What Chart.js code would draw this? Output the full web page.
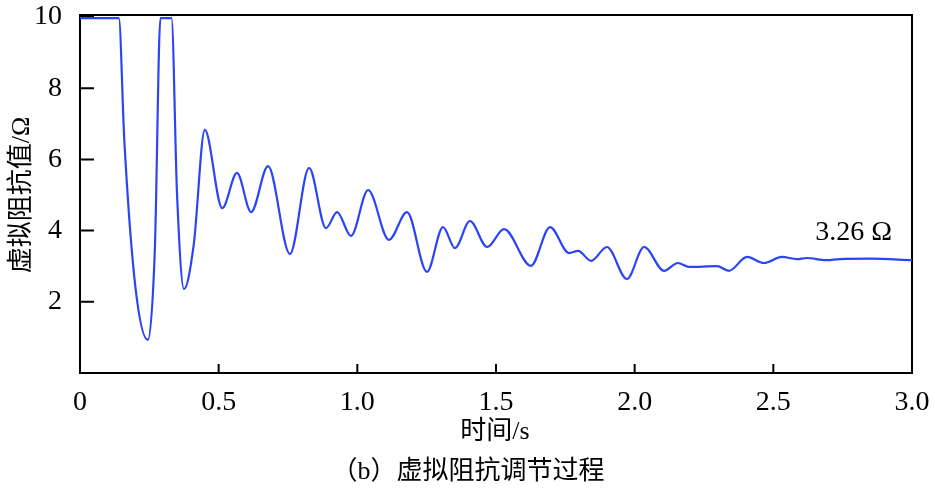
<!DOCTYPE html>
<html><head><meta charset="utf-8">
<script src="https://cdn.jsdelivr.net/npm/chart.js@4/dist/chart.umd.min.js"></script>
<style>html,body{margin:0;background:#fff}#wrap{width:935px;height:495px}</style>
</head><body><div id="wrap"><canvas id="c"></canvas></div>
<script>
// curve: time (s) and virtual impedance (Ω)
const times = [0, 0.10, 0.14, 0.16, 0.20, 0.245, 0.27, 0.29, 0.33, 0.35, 0.375, 0.41, 0.45, 0.513, 0.566, 0.617, 0.678, 0.757, 0.826, 0.887, 0.927, 0.977, 1.039, 1.114, 1.179, 1.251, 1.309, 1.352, 1.406, 1.468, 1.529, 1.626, 1.695, 1.763, 1.796, 1.843, 1.90, 1.972, 2.034, 2.106, 2.156, 2.196, 2.297, 2.34, 2.405, 2.466, 2.531, 2.585, 2.62, 2.69, 2.74, 2.85, 3.0];
const values = [9.97, 9.97, 9.97, 6.5, 2.4, 0.93, 3.5, 9.97, 9.97, 5.0, 2.36, 3.6, 6.83, 4.63, 5.62, 4.52, 5.81, 3.34, 5.76, 4.07, 4.52, 3.85, 5.14, 3.74, 4.52, 2.84, 4.10, 3.51, 4.27, 3.54, 4.04, 3.01, 4.10, 3.37, 3.43, 3.15, 3.54, 2.64, 3.54, 2.87, 3.09, 2.98, 3.0, 2.87, 3.26, 3.09, 3.26, 3.20, 3.23, 3.17, 3.2, 3.21, 3.17];
const xTicks = [0, 0.5, 1.0, 1.5, 2.0, 2.5, 3.0];
const yTicks = [2, 4, 6, 8, 10];
const note = '3.26 Ω';

const serif = '"Liberation Serif", "Noto Sans CJK SC", serif';

const frame = {
  id: 'frame',
  beforeDatasetsDraw(chart) {
    const { ctx, chartArea: a, scales: { x, y } } = chart;
    ctx.save();
    ctx.strokeStyle = '#000'; ctx.lineWidth = 2;
    ctx.strokeRect(a.left, a.top - 2, a.right - a.left, a.bottom - a.top + 2);
    ctx.beginPath();
    xTicks.forEach(t => { const px = x.getPixelForValue(t); ctx.moveTo(px, a.bottom); ctx.lineTo(px, a.bottom - 9); });
    yTicks.forEach(v => { const py = y.getPixelForValue(v); ctx.moveTo(a.left, py); ctx.lineTo(a.left + 14, py); });
    ctx.stroke();
    ctx.fillStyle = '#000';
    ctx.font = '28px ' + serif;
    ctx.textAlign = 'center'; ctx.textBaseline = 'middle';
    ctx.fillText(note, x.getPixelForValue(2.79), y.getPixelForValue(3.93));
    ctx.font = '26px ' + serif;
    ctx.fillText('时间/s', 495, 432);
    ctx.fillText('（b）虚拟阻抗调节过程', 468, 472);
    ctx.translate(22, 195); ctx.rotate(-Math.PI / 2);
    ctx.fillText('虚拟阻抗值/Ω', 0, 0);
    ctx.restore();
  }
};

new Chart(document.getElementById('c'), {
  type: 'line',
  data: { datasets: [{ data: times.map((t, i) => ({ x: t, y: values[i] })), borderColor: '#2b45f5', borderWidth: 2.2, pointRadius: 0, cubicInterpolationMode: 'monotone', clip: 4 }] },
  options: {
    responsive: true, maintainAspectRatio: false, animation: false,
    layout: { padding: { top: 17, right: 23, left: 0, bottom: 0 } },
    plugins: { legend: { display: false }, tooltip: { enabled: false } },
    scales: {
      x: { type: 'linear', min: 0, max: 3, afterFit: s => { s.height = 122; s.paddingLeft = 0; s.paddingRight = 0; },
        afterBuildTicks: s => { s.ticks = xTicks.map(v => ({ value: v })); },
        grid: { display: false }, border: { display: false },
        ticks: { padding: 5, color: '#000', font: { family: serif, size: 28 }, callback: v => v === 0 ? '0' : v.toFixed(1) } },
      y: { min: 0, max: 10, afterFit: s => { s.width = 80; s.paddingTop = 0; s.paddingBottom = 0; },
        afterBuildTicks: s => { s.ticks = yTicks.map(v => ({ value: v })); },
        grid: { display: false }, border: { display: false },
        ticks: { padding: 10, color: '#000', font: { family: serif, size: 28 } } }
    }
  },
  plugins: [frame]
});
</script></body></html>
